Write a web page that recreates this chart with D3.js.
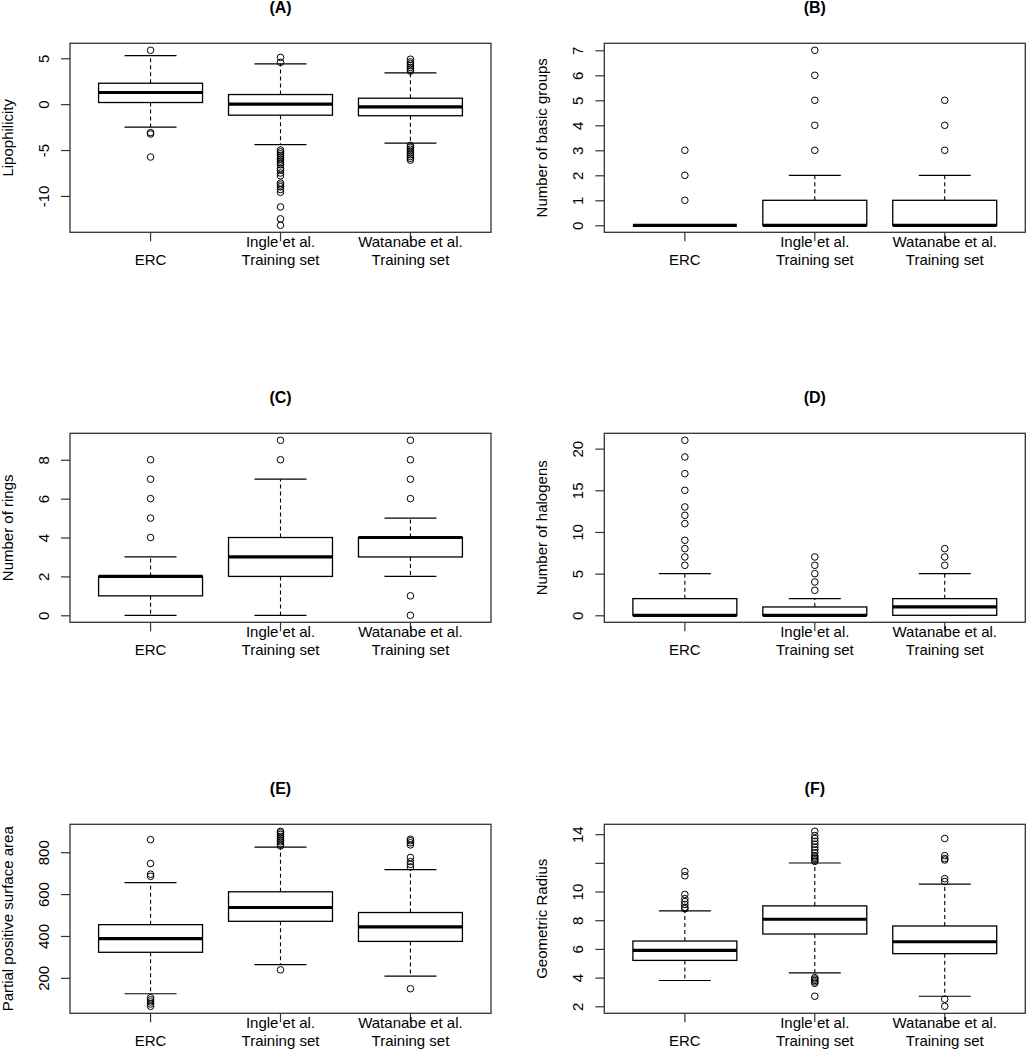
<!DOCTYPE html>
<html><head><meta charset="utf-8">
<script src="https://cdn.jsdelivr.net/npm/d3@7/dist/d3.min.js"></script>
<style>
body{margin:0;background:#fff;}
text{font-family:"Liberation Sans",Arial,sans-serif;fill:#000;}
</style>
</head><body>
<svg id="chart" width="1026" height="1050"></svg>
<script>
// ---------- DATA ----------
const categories = ["ERC", "Ingle et al.\nTraining set", "Watanabe et al.\nTraining set"];
const panelTitles = ["(A)", "(B)", "(C)", "(D)", "(E)", "(F)"];
const yLabels = ["Lipophilicity", "Number of basic groups", "Number of rings",
                 "Number of halogens", "Partial positive surface area", "Geometric Radius"];

const yTicksA = [-10, -5, 0, 5];
const yTicksB = [0, 1, 2, 3, 4, 5, 6, 7];
const yTicksC = [0, 2, 4, 6, 8];
const yTicksD = [0, 5, 10, 15, 20];
const yTicksE = [200, 400, 600, 800];
const yTicksF = [2, 4, 6, 8, 10, 12, 14];
const yTickLabelsF = ["2", "4", "6", "8", "10", "", "14"];

// [lower whisker, Q1, median, Q3, upper whisker] per category
const statsA = [[-2.5, 0.18, 1.27, 2.28, 5.3], [-4.4, -1.2, 0.0, 1.05, 4.4], [-4.24, -1.26, -0.29, 0.65, 3.41]];
const outliersA = [
  [5.87, -3.1, -3.25, -5.76],
  [4.56, 5.1, -5.0, -5.2, -5.4, -5.6, -5.8, -6.0, -6.2, -6.4, -6.6, -7.0, -7.2, -7.5, -7.8, -8.6, -8.8, -9.0, -9.3, -9.6, -11.2, -12.5, -13.2],
  [3.6, 3.8, 4.0, 4.2, 4.4, 4.6, 4.9, -4.5, -4.7, -4.9, -5.1, -5.3, -5.5, -5.7, -5.9, -6.1]
];
const statsB = [[0, 0, 0, 0, 0], [0, 0, 0, 1, 2], [0, 0, 0, 1, 2]];
const outliersB = [[1, 2, 3], [3, 4, 5, 6, 7], [3, 4, 5]];

const statsC = [[0, 1, 2, 2, 3], [0, 2, 3, 4, 7], [2, 3, 4, 4, 5]];
const outliersC = [[4, 5, 6, 7, 8], [8, 9], [6, 7, 8, 9, 1, 0]];

const statsD = [[0, 0, 0, 2, 5], [0, 0, 0, 1, 2], [0, 0, 1, 2, 5]];
const outliersD = [[6, 7, 8, 9, 11, 12, 13, 15, 17, 19, 21], [3, 4, 5, 6, 7], [6, 7, 8]];

const statsE = [[124, 322, 387, 454, 655], [263, 470, 536, 611, 824], [208, 374, 443, 512, 717]];
const outliersE = [
  [860, 746, 695, 685, 105, 95, 85, 75, 64],
  [830, 840, 850, 858, 866, 875, 885, 893, 900, 238],
  [730, 742, 755, 775, 835, 845, 855, 862, 148]
];

const statsF = [[3.8, 5.2, 5.9, 6.55, 8.65], [4.33, 7.04, 8.07, 9.0, 11.99], [2.7, 5.67, 6.5, 7.6, 10.52]];
const outliersF = [
  [11.4, 11.1, 9.8, 9.5, 9.3, 9.1, 8.9, 8.8],
  [12.1, 12.2, 12.3, 12.4, 12.5, 12.7, 12.9, 13.1, 13.3, 13.5, 13.7, 13.9, 14.2, 4.0, 3.9, 3.8, 3.7, 3.6, 2.7],
  [13.7, 12.5, 12.3, 12.2, 10.9, 10.7, 2.5, 2.0]
];

// ---------- DRAW ----------
const panels = [
  {stats: statsA, out: outliersA, ticks: yTicksA, labels: null},
  {stats: statsB, out: outliersB, ticks: yTicksB, labels: null},
  {stats: statsC, out: outliersC, ticks: yTicksC, labels: null},
  {stats: statsD, out: outliersD, ticks: yTicksD, labels: null},
  {stats: statsE, out: outliersE, ticks: yTicksE, labels: null},
  {stats: statsF, out: outliersF, ticks: yTicksF, labels: yTickLabelsF}
];

const svg = d3.select("#chart");
const W = 421, H = 189;
const lefts = [70, 604.3];
const tops = [43.3, 433.3, 824.3];

panels.forEach((p, i) => {
  const left = lefts[i % 2], top = tops[Math.floor(i / 2)];
  const g = svg.append("g");

  const all = p.stats.flat().concat(p.out.flat());
  const lo = d3.min(all), hi = d3.max(all);
  const ext = (hi - lo) * 0.04;
  const y = d3.scaleLinear().domain([lo - ext, hi + ext]).range([top + H, top]);
  const x = d3.scaleBand().domain(categories).range([left, left + W])
              .paddingInner(0).paddingOuter(0.12);
  const step = x.step();
  const bw = step * 0.8;

  // frame
  g.append("rect").attr("x", left).attr("y", top).attr("width", W).attr("height", H)
    .attr("fill", "none").attr("stroke", "#333").attr("stroke-width", 1.3);

  // title
  g.append("text").attr("x", left + W / 2).attr("y", top - 30)
    .attr("text-anchor", "middle").attr("font-size", 16).attr("font-weight", "bold")
    .text(panelTitles[i]);

  // y axis
  const yAxis = d3.axisLeft(y).tickValues(p.ticks).tickSize(9).tickSizeOuter(0)
    .tickFormat((d, k) => p.labels ? p.labels[k] : String(d));
  const ya = g.append("g").attr("transform", `translate(${left},0)`).call(yAxis);
  ya.select(".domain").remove();
  ya.selectAll(".tick line").attr("stroke", "#333").attr("stroke-width", 1.2);
  ya.selectAll(".tick text")
    .attr("transform", "rotate(-90)")
    .attr("x", 0).attr("y", -21).attr("dy", null)
    .attr("text-anchor", "middle")
    .attr("font-size", 15).attr("font-family", "Liberation Sans, Arial, sans-serif")
    .attr("fill", "#000");

  // y label
  g.append("text")
    .attr("transform", `translate(${left - 57},${top + H / 2}) rotate(-90)`)
    .attr("text-anchor", "middle").attr("font-size", 15)
    .text(yLabels[i]);

  // x axis ticks and labels
  const xAxis = d3.axisBottom(x).tickSize(9).tickSizeOuter(0).tickFormat("");
  const xa = g.append("g").attr("transform", `translate(0,${top + H})`).call(xAxis);
  xa.select(".domain").remove();
  xa.selectAll(".tick line").attr("stroke", "#333").attr("stroke-width", 1.2);
  categories.forEach(c => {
    const lines = c.split("\n");
    const cx = x(c) + x.bandwidth() / 2;
    lines.forEach((ln, k) => {
      g.append("text").attr("x", cx)
        .attr("y", top + H + 33 - (lines.length - 1 - k) * 18.3)
        .attr("text-anchor", "middle").attr("font-size", 15).text(ln);
    });
  });

  // boxes
  p.stats.forEach((s, k) => {
    const c = categories[k];
    const cx = x(c) + x.bandwidth() / 2;
    const [lw, q1, med, q3, uw] = s;
    const bg = g.append("g").attr("stroke", "#000").attr("fill", "none");
    // whiskers (dashed)
    bg.append("line").attr("x1", cx).attr("x2", cx).attr("y1", y(q3)).attr("y2", y(uw))
      .attr("stroke-dasharray", "4,3").attr("stroke-width", 1.1);
    bg.append("line").attr("x1", cx).attr("x2", cx).attr("y1", y(q1)).attr("y2", y(lw))
      .attr("stroke-dasharray", "4,3").attr("stroke-width", 1.1);
    // caps
    [lw, uw].forEach(v => {
      bg.append("line").attr("x1", cx - bw / 4).attr("x2", cx + bw / 4)
        .attr("y1", y(v)).attr("y2", y(v)).attr("stroke-width", 1.2);
    });
    // box
    bg.append("rect").attr("x", cx - bw / 2).attr("width", bw)
      .attr("y", y(q3)).attr("height", Math.max(0, y(q1) - y(q3)))
      .attr("fill", "#fff").attr("stroke-width", 1.3);
    // median
    bg.append("line").attr("x1", cx - bw / 2).attr("x2", cx + bw / 2)
      .attr("y1", y(med)).attr("y2", y(med)).attr("stroke-width", 3.2);
    // outliers
    p.out[k].forEach(v => {
      bg.append("circle").attr("cx", cx).attr("cy", y(v)).attr("r", 3.3)
        .attr("fill", "none").attr("stroke-width", 1);
    });
  });
});
</script>
</body></html>
